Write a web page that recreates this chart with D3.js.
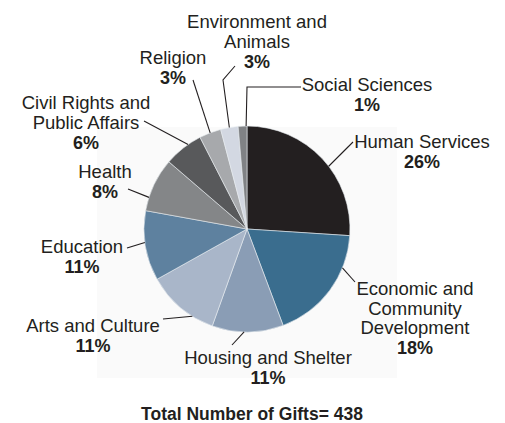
<!DOCTYPE html>
<html>
<head>
<meta charset="utf-8">
<script src="https://cdn.jsdelivr.net/npm/d3@7"></script>
<style>
  html, body { margin: 0; padding: 0; background: #ffffff; }
  svg { display: block; font-family: "Liberation Sans", Arial, sans-serif; }
</style>
</head>
<body>
<svg id="chart" width="505" height="423"></svg>
<script>
// ---- data ----
const categories = [
  "Human Services",
  "Economic and Community Development",
  "Housing and Shelter",
  "Arts and Culture",
  "Education",
  "Health",
  "Civil Rights and Public Affairs",
  "Religion",
  "Environment and Animals",
  "Social Sciences"
];
const gifts = [114, 80, 49, 50, 48, 37, 27, 15, 12, 6];
const totalGifts = 438;
const titleText = "Total Number of Gifts= 438";

// ---- styles / layout (not data) ----
const colors = ["#231f20", "#3a6d8e", "#8a9db5", "#a9b6c9", "#5e819f",
                "#848688", "#58595b", "#a7a9ac", "#d3d8e2", "#808285"];
// label lines, anchor (center x, first baseline), leader outer point(s), leader position within slice
const labelLayout = [
  { lines: ["Human Services"], x: 422, y: 148, leader: [[353, 142]], at: 0.56 },
  { lines: ["Economic and", "Community", "Development"], x: 415, y: 295, leader: [[355, 282]], at: 0.28 },
  { lines: ["Housing and Shelter"], x: 268, y: 364, leader: [[232, 345]], at: 0.55 },
  { lines: ["Arts and Culture"], x: 93, y: 332, leader: [[163, 319]], at: 0.3 },
  { lines: ["Education"], x: 82, y: 253, leader: [[127, 248]], at: 0.55 },
  { lines: ["Health"], x: 105, y: 178, leader: [[128, 189]], at: 0.25 },
  { lines: ["Civil Rights and", "Public Affairs"], x: 86, y: 109, leader: [[144, 121]], at: 0.65 },
  { lines: ["Religion"], x: 173, y: 64, leader: [[193, 80]], at: 0.5 },
  { lines: ["Environment and", "Animals"], x: 257, y: 28, leader: [[235, 66], [223, 80]], at: 0.5 },
  { lines: ["Social Sciences"], x: 367, y: 91, leader: [[301, 87], [247, 87]], at: 0.9 }
];

const svg = d3.select("#chart");
const cx = 247, cy = 229, R = 103;

// faint plot-area background
svg.append("rect")
  .attr("x", 97).attr("y", 127).attr("width", 300).attr("height", 251)
  .attr("fill", "#fafafa");

const data = categories.map((c, i) => ({ name: c, value: gifts[i], i }));

const pie = d3.pie().value(d => d.value).sort(null).startAngle(0).endAngle(2 * Math.PI);
const arcs = pie(data);
const arc = d3.arc().innerRadius(0).outerRadius(R);

const g = svg.append("g").attr("transform", `translate(${cx},${cy})`);
g.selectAll("path.slice")
  .data(arcs)
  .enter().append("path")
  .attr("class", "slice")
  .attr("d", arc)
  .attr("fill", d => colors[d.data.i])
  .attr("stroke", "#e8ecf0")
  .attr("stroke-width", 0.6);

// leader lines
const line = d3.line();
arcs.forEach((a, k) => {
  const L = labelLayout[k];
  const ang = a.startAngle + (a.endAngle - a.startAngle) * L.at;
  const px = cx + R * Math.sin(ang);
  const py = cy - R * Math.cos(ang);
  const pts = L.leader.concat([[px, py]]);
  svg.append("path")
    .attr("d", line(pts))
    .attr("fill", "none")
    .attr("stroke", "#231f20")
    .attr("stroke-width", 1.1);
});

// labels
const fmt = v => Math.round(v / totalGifts * 100) + "%";
arcs.forEach((a, k) => {
  const L = labelLayout[k];
  const t = svg.append("text")
    .attr("text-anchor", "middle")
    .attr("fill", "#231f20")
    .attr("font-size", 18.5);
  L.lines.forEach((ln, j) => {
    t.append("tspan").attr("x", L.x).attr("y", L.y + j * 19.5).text(ln);
  });
  t.append("tspan")
    .attr("x", L.x).attr("y", L.y + L.lines.length * 19.5 + 0.5)
    .attr("font-weight", "bold")
    .attr("font-size", 18)
    .text(fmt(a.data.value));
});

// title
svg.append("text")
  .attr("x", 252).attr("y", 420)
  .attr("text-anchor", "middle")
  .attr("font-size", 17.5)
  .attr("font-weight", "bold")
  .attr("fill", "#231f20")
  .text(titleText);
</script>
</body>
</html>
